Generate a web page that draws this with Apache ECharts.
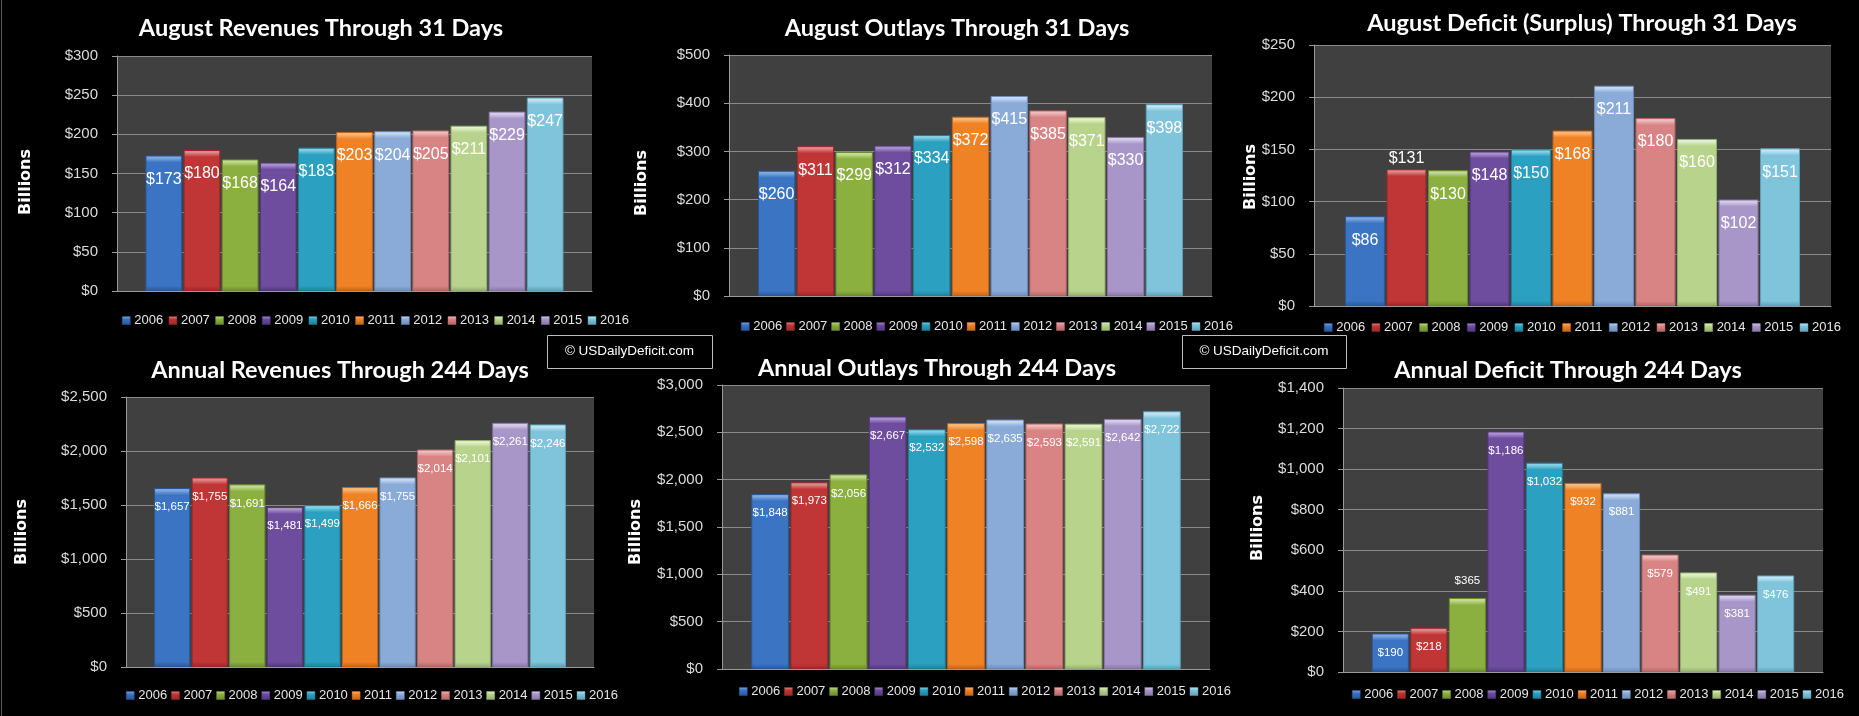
<!DOCTYPE html>
<html><head><meta charset="utf-8">
<script src="https://cdn.jsdelivr.net/npm/echarts@6/dist/echarts.min.js"></script>
<style>html,body{margin:0;padding:0;background:#000;}#c{width:1859px;height:716px;}</style>
</head><body><div id="c"></div>
<script>
// ---------- data ----------
const years = ['2006','2007','2008','2009','2010','2011','2012','2013','2014','2015','2016'];
const augRevenues = [173,180,168,164,183,203,204,205,211,229,247];
const augOutlays  = [260,311,299,312,334,372,415,385,371,330,398];
const augDeficit  = [86,131,130,148,150,168,211,180,160,102,151];
const annRevenues = [1657,1755,1691,1481,1499,1666,1755,2014,2101,2261,2246];
const annOutlays  = [1848,1973,2056,2667,2532,2598,2635,2593,2591,2642,2722];
const annDeficit  = [190,218,365,1186,1032,932,881,579,491,381,476];
const titles = ['August Revenues Through 31 Days','August Outlays Through 31 Days','August Deficit (Surplus) Through 31 Days',
                'Annual Revenues Through 244 Days','Annual Outlays Through 244 Days','Annual Deficit Through 244 Days'];
const yMax = [300,500,250,2500,3000,1400];
const yStep = [50,100,50,500,500,200];
const axisTitle = 'Billions';
const credit = '\u00A9 USDailyDeficit.com';

// ---------- style / layout ----------
const values = [augRevenues, augOutlays, augDeficit, annRevenues, annOutlays, annDeficit];
const palette = [
  ['#28579a','#3a74c2','#80a8e0'],
  ['#9a2828','#c03535','#e08888'],
  ['#6c8a2e','#8cb040','#c2dc90'],
  ['#523680','#6e4c9e','#aa92d0'],
  ['#1c8098','#2ca0c0','#84d0e6'],
  ['#c0661a','#f08226','#fab878'],
  ['#6c8cbc','#8aaad8','#c4d8f2'],
  ['#b46666','#d88484','#f0bcbc'],
  ['#94ae6c','#b8d48c','#e0f0c8'],
  ['#8676a6','#a896c8','#d6ccea'],
  ['#5ca2ba','#80c4dc','#c0e6f4']
];
const panels = [
  {g:[117,56,475,235],  t:[316,11],  b:[26,182],  lg:[117,317], gap:5.5, lf:16, ld:16, above:[]},
  {g:[729,55,483,241],  t:[952,11],  b:[642,183], lg:[736,323], gap:4,   lf:16, ld:16, above:[]},
  {g:[1314,45,517,261], t:[1577,6],  b:[1251,177],lg:[1319,324],gap:6.5, lf:16, ld:16, above:['2007']},
  {g:[126,397,468,270], t:[335,353], b:[22,532],  lg:[121,692], gap:4,   lf:11.5, ld:13, above:[]},
  {g:[722,385,488,284], t:[932,351], b:[636,532], lg:[734,688], gap:4,   lf:11.5, ld:13, above:[]},
  {g:[1343,388,480,284],t:[1563,353],b:[1258,528],lg:[1347,691],gap:4,   lf:11.5, ld:13, above:['2008']}
];
const money = v => '$' + Number(v).toLocaleString('en-US');

function barColor(c, hpx){
  const h = Math.max(hpx,1);
  const b = Math.min(0.3, 7 / h);
  const d = Math.max(0.7, 1 - 5 / h);
  return {type:'linear',x:0,y:0,x2:0,y2:1,colorStops:[
    {offset:0,color:c[2]},{offset:b*0.35,color:c[2]},{offset:b,color:c[1]},
    {offset:d,color:c[1]},{offset:1,color:c[0]}]};
}
function legendColor(c){
  return {type:'linear',x:0,y:0,x2:0,y2:1,colorStops:[{offset:0,color:c[2]},{offset:0.35,color:c[1]},{offset:1,color:c[0]}]};
}

const grid=[], xAxis=[], yAxis=[], series=[], title=[], legend=[], graphic=[];
panels.forEach((p,pi)=>{
  grid.push({left:p.g[0],top:p.g[1],width:p.g[2],height:p.g[3],show:true,backgroundColor:'#404040',borderWidth:0});
  xAxis.push({type:'category',gridIndex:pi,data:[''],axisLabel:{show:false},axisTick:{show:false},
    axisLine:{lineStyle:{color:'#9a9a9a',width:1}}});
  yAxis.push({type:'value',gridIndex:pi,min:0,max:yMax[pi],interval:yStep[pi],
    axisLine:{show:true,lineStyle:{color:'#9a9a9a'}},
    axisTick:{show:true,length:5,lineStyle:{color:'#9a9a9a'}},
    splitLine:{lineStyle:{color:'#8a8a8a',width:1}},
    axisLabel:{color:'#dcdcdc',fontSize:15,fontFamily:'Liberation Sans',margin:19,formatter:money}});
  title.push({text:titles[pi],left:p.t[0],top:p.t[1],textAlign:'center',
    textStyle:{color:'#fff',fontSize:23.5,fontWeight:'bold',fontFamily:'Lato'}});
  legend.push({data:years.map((y,i)=>({name:y,itemStyle:{color:legendColor(palette[i]),borderColor:palette[i][0],borderWidth:0.5}})),
    left:p.lg[0],top:p.lg[1]-8,itemWidth:8,itemHeight:8,itemGap:p.gap,icon:'rect',
    textStyle:{color:'#e6e6e6',fontSize:13,fontFamily:'Liberation Sans',padding:[0,0,0,-1]},selectedMode:false});
  graphic.push({type:'text',x:p.b[0],y:p.b[1],rotation:Math.PI/2,
    style:{text:axisTitle,fill:'#fff',font:'bold 16px "DejaVu Sans"',textAlign:'center',textVerticalAlign:'middle'}});
  years.forEach((yr,i)=>{
    const up = p.above.indexOf(yr)>=0;
    const v = values[pi][i];
    series.push({type:'bar',name:yr,xAxisIndex:pi,yAxisIndex:pi,data:[v],
      barGap:'4%',barCategoryGap:'12%',
      itemStyle:{color:barColor(palette[i], v/yMax[pi]*p.g[3]),borderColor:palette[i][0],borderWidth:1},
      label:{show:true,position:up?'top':'insideTop',distance:up?(pi<3?3:11):p.ld,color:'#fff',
        fontSize:p.lf,fontFamily:'Liberation Sans',formatter:o=>money(o.value)}});
  });
});
[[547,335,165,33],[1182,335,164,33]].forEach(r=>{
  graphic.push({type:'rect',shape:{x:r[0]+0.5,y:r[1]+0.5,width:r[2],height:r[3]},style:{fill:'#000',stroke:'#bfbfbf',lineWidth:1}});
  graphic.push({type:'text',x:r[0]+r[2]/2,y:r[1]+r[3]/2,style:{text:credit,fill:'#fff',font:'13.5px "Liberation Sans"',textAlign:'center',textVerticalAlign:'middle'}});
});
graphic.push({type:'line',shape:{x1:1.5,y1:0,x2:1.5,y2:716},style:{stroke:'#5a5a5a',lineWidth:1}});

const chart = echarts.init(document.getElementById('c'),null,{renderer:'canvas'});
chart.setOption({backgroundColor:'#000',animation:false,title,legend,grid,xAxis,yAxis,series,graphic});
</script></body></html>
